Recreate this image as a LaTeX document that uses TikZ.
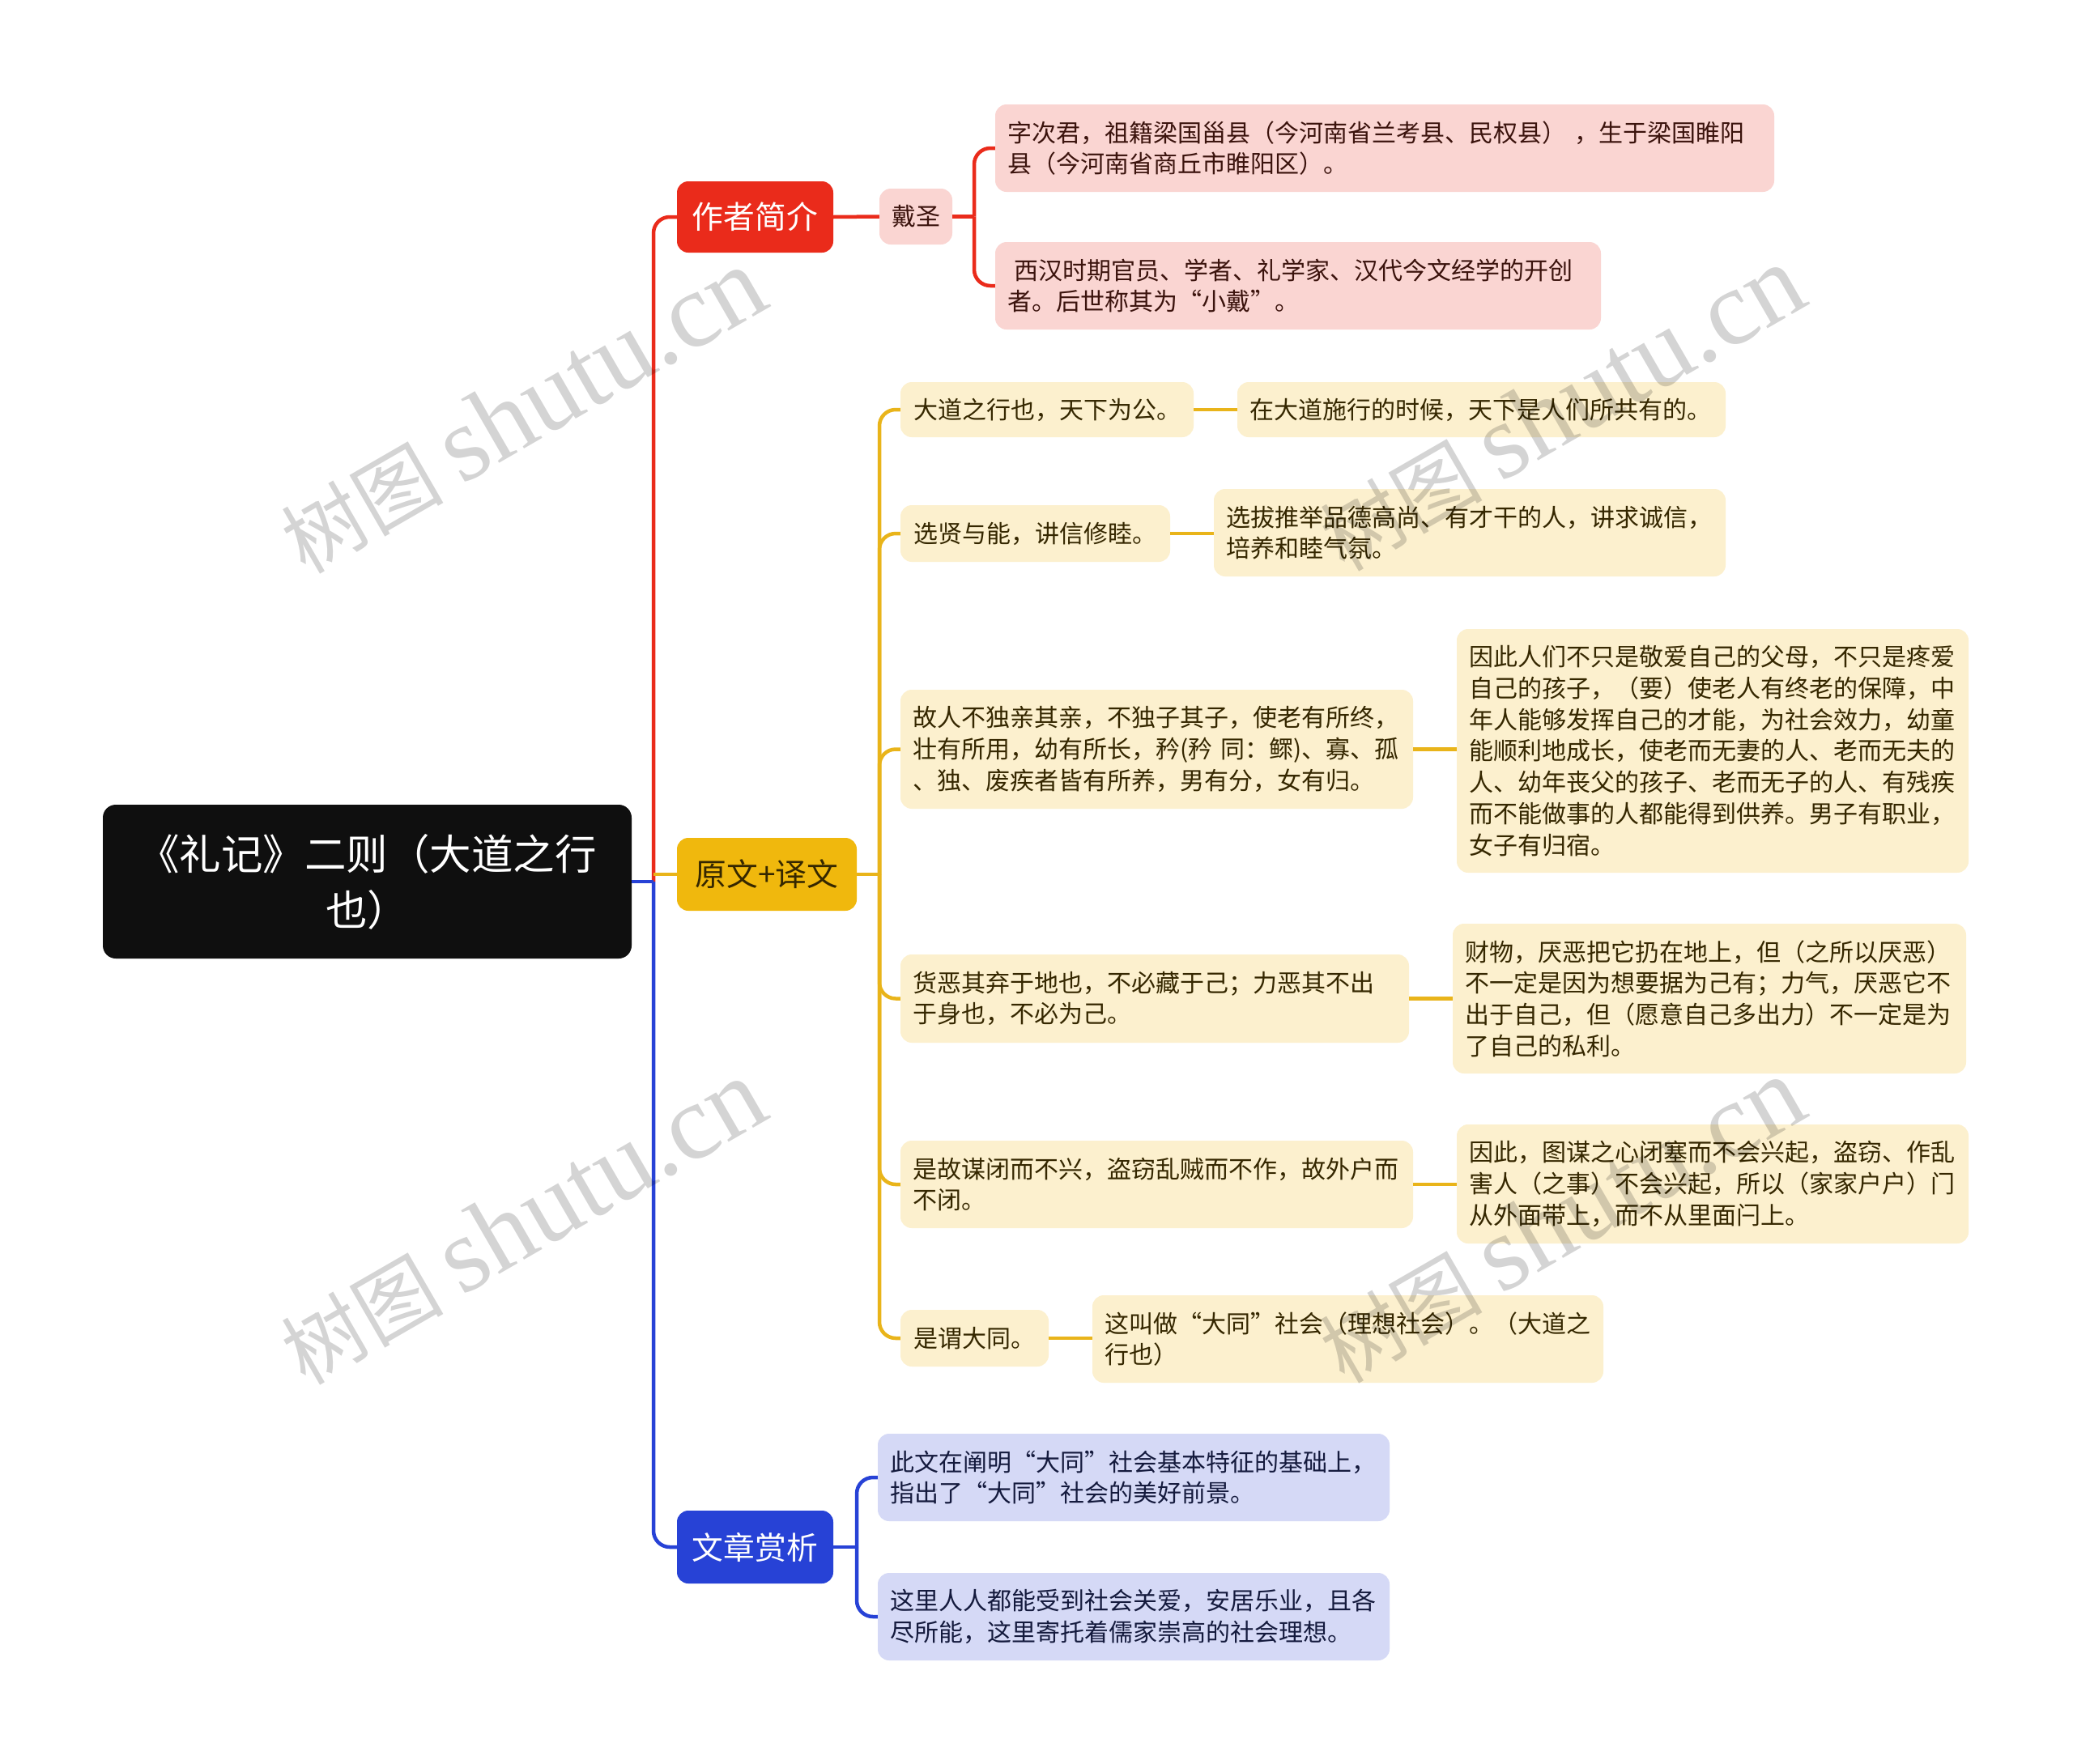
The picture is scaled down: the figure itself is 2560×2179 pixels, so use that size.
\documentclass[tikz,border=0pt]{standalone}
\usepackage{fontspec}
\setmainfont{Noto Sans CJK SC}
\newfontfamily\wmlatin{Liberation Serif}
\usetikzlibrary{calc}
\definecolor{cRoot}{HTML}{0F0F0F}
\definecolor{cRed}{HTML}{EA2B1B}
\definecolor{cYel}{HTML}{F0B80D}
\definecolor{cYelLine}{HTML}{E9B41A}
\definecolor{cBlue}{HTML}{2742D6}
\definecolor{cLeafR}{HTML}{FAD5D2}
\definecolor{cLeafY}{HTML}{FCF0CE}
\definecolor{cLeafB}{HTML}{D5D9F6}
\definecolor{cTxtR}{HTML}{3B130D}
\definecolor{cTxtY}{HTML}{352700}
\definecolor{cTxtB}{HTML}{141A3D}
\begin{document}
\begin{tikzpicture}[x=1pt,y=-1pt,
  base/.style={rounded corners=14pt, inner ysep=0pt, inner xsep=15pt, align=left},
  rootbox/.style={base, fill=cRoot, text=white, align=center, rounded corners=16pt,
    font=\fontsize{51.5}{69}\selectfont},
  topic/.style={base, align=center, inner xsep=0pt, font=\fontsize{38.8}{46}\selectfont},
  leafR/.style={base, fill=cLeafR, text=cTxtR, font=\fontsize{30}{38.7}\selectfont},
  leafY/.style={base, fill=cLeafY, text=cTxtY, font=\fontsize{30}{38.7}\selectfont},
  leafB/.style={base, fill=cLeafB, text=cTxtB, font=\fontsize{30}{38.7}\selectfont},
  short/.style={align=center, inner xsep=0pt},
  lnR/.style={draw=cRed, line width=4.5pt},
  lnY/.style={draw=cYelLine, line width=4.5pt},
  lnB/.style={draw=cBlue, line width=4.5pt},
  elbow/.style={rounded corners=20pt},
  wm/.style={rotate=30, text=black, opacity=0.17, inner sep=0pt,
    font=\fontsize{100}{100}\selectfont},
  wml/.style={font=\wmlatin\fontsize{132}{132}\selectfont}
]
\useasboundingbox[fill=white] (0,0) rectangle (2560,2179);

% root and topics
\node[rootbox, minimum width=653pt, minimum height=190pt, text width=623pt] (root) at (453.5,1089) {《礼记》二则（大道之行\\也）};
\node[topic, fill=cRed, text=white, minimum width=193pt, minimum height=88pt] (t1) at (932.5,268) {作者简介};
\node[topic, fill=cYel, text=cTxtY, minimum width=222pt, minimum height=90pt] (t2) at (947,1080) {原文+译文};
\node[topic, fill=cBlue, text=white, minimum width=193pt, minimum height=90pt] (t3) at (932.5,1911) {文章赏析};

% red branch
\node[leafR, short, minimum width=90pt, minimum height=69pt] (dai) at (1131,267.5) {戴圣};
\node[leafR, text width=932pt, minimum height=108pt] (r1) at (1710,183) {字次君，祖籍梁国甾县（今河南省兰考县、民权县） ，生于梁国睢阳\\县（今河南省商丘市睢阳区）。};
\node[leafR, text width=718pt, minimum height=108pt] (r2) at (1603,353) {\hspace*{8pt}西汉时期官员、学者、礼学家、汉代今文经学的开创\\者。后世称其为“小戴”。};

% yellow branch
\node[leafY, short, minimum width=362pt, minimum height=68pt] (y1) at (1293,506) {大道之行也，天下为公。};
\node[leafY, text width=573pt, minimum height=68pt] (y1l) at (1829.5,506) {在大道施行的时候，天下是人们所共有的。};
\node[leafY, short, minimum width=333pt, minimum height=70pt] (y2) at (1278.5,659) {选贤与能，讲信修睦。};
\node[leafY, text width=602pt, minimum height=108pt] (y2l) at (1815,658) {选拔推举品德高尚、有才干的人，讲求诚信，\\培养和睦气氛。};
\node[leafY, text width=603pt, minimum height=147pt] (y3) at (1428.5,925.5) {故人不独亲其亲，不独子其子，使老有所终，\\壮有所用，幼有所长，矜(矜 同：鳏)、寡、孤\\、独、废疾者皆有所养，男有分，女有归。};
\node[leafY, text width=602pt, minimum height=301pt] (y3l) at (2115,927.5) {因此人们不只是敬爱自己的父母，不只是疼爱\\自己的孩子，（要）使老人有终老的保障，中\\年人能够发挥自己的才能，为社会效力，幼童\\能顺利地成长，使老而无妻的人、老而无夫的\\人、幼年丧父的孩子、老而无子的人、有残疾\\而不能做事的人都能得到供养。男子有职业，\\女子有归宿。};
\node[leafY, text width=598pt, minimum height=109pt] (y4) at (1426,1233.5) {货恶其弃于地也，不必藏于己；力恶其不出\\于身也，不必为己。};
\node[leafY, text width=604pt, minimum height=185pt] (y4l) at (2111,1233.5) {财物，厌恶把它扔在地上，但（之所以厌恶）\\不一定是因为想要据为己有；力气，厌恶它不\\出于自己，但（愿意自己多出力）不一定是为\\了自己的私利。};
\node[leafY, text width=603pt, minimum height=108pt] (y5) at (1428.5,1463) {是故谋闭而不兴，盗窃乱贼而不作，故外户而\\不闭。};
\node[leafY, text width=602pt, minimum height=147pt] (y5l) at (2115,1462.5) {因此，图谋之心闭塞而不会兴起，盗窃、作乱\\害人（之事）不会兴起，所以（家家户户）门\\从外面带上，而不从里面闩上。};
\node[leafY, short, minimum width=183pt, minimum height=70pt] (y6) at (1203.5,1653) {是谓大同。};
\node[leafY, text width=601pt, minimum height=108pt] (y6l) at (1664.5,1654) {这叫做“大同”社会（理想社会）。（大道之\\行也）};

% blue branch
\node[leafB, text width=602pt, minimum height=108pt] (b1) at (1400,1825) {此文在阐明“大同”社会基本特征的基础上，\\指出了“大同”社会的美好前景。};
\node[leafB, text width=602pt, minimum height=108pt] (b2) at (1400,1997) {这里人人都能受到社会关爱，安居乐业，且各\\尽所能，这里寄托着儒家崇高的社会理想。};

% junctions
\coordinate (j) at (807,1089);
\coordinate (jr) at (1203,267.5);
\coordinate (jy) at (1086,1080);
\coordinate (jb) at (1058,1911);

% level 1 connectors
\draw[lnR, elbow] (j) |- (t1.west);
\draw[lnB, elbow] (j) |- (t3.west);
\draw[lnB] (root.east) -- (j);
\draw[lnY] (j |- t2.west) -- (t2.west);

% red connectors
\draw[lnR] (t1.east) -- (dai.west);
\draw[lnR] (dai.east) -- (jr);
\draw[lnR, elbow] (jr) |- (r1.west);
\draw[lnR, elbow] (jr) |- (r2.west);

% yellow connectors
\draw[lnY] (t2.east) -- (jy);
\foreach \k in {y1,y2,y3,y4,y5,y6}{
  \draw[lnY, elbow] (jy) |- (\k.west);
  \draw[lnY] (\k.east) -- (\k.east -| \k l.west);
}

% blue connectors
\draw[lnB] (t3.east) -- (jb);
\draw[lnB, elbow] (jb) |- (b1.west);
\draw[lnB, elbow] (jb) |- (b2.west);

% watermarks
\node[wm] (wm1) at (645,508) {树图 {\wmlatin\fontsize{132}{132}\selectfont shutu.cn}};
\node[wm] (wm2) at (1928,505) {树图 {\wmlatin\fontsize{132}{132}\selectfont shutu.cn}};
\node[wm] (wm3) at (645,1510) {树图 {\wmlatin\fontsize{132}{132}\selectfont shutu.cn}};
\node[wm] (wm4) at (1928,1508) {树图 {\wmlatin\fontsize{132}{132}\selectfont shutu.cn}};
\end{tikzpicture}
\end{document}
